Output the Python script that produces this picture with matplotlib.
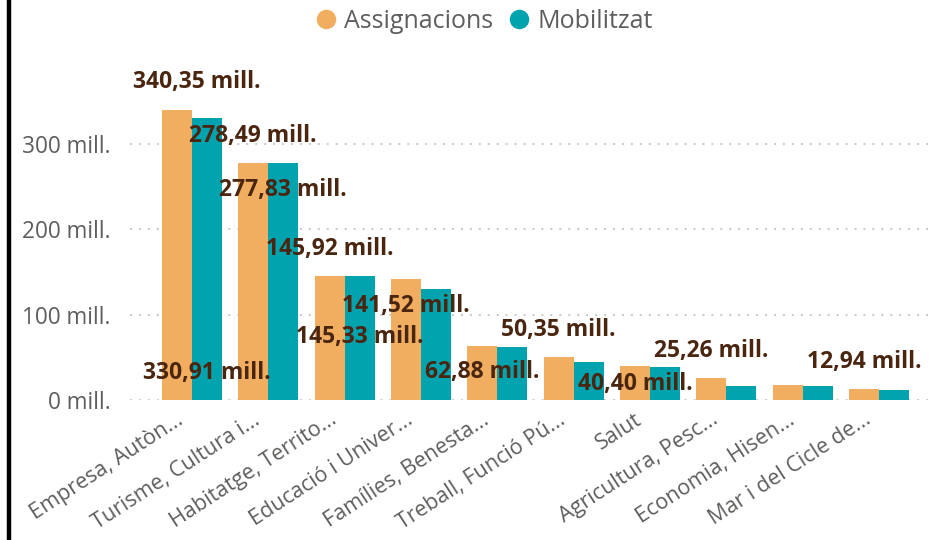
import matplotlib
matplotlib.use("Agg")
import matplotlib.pyplot as plt
import matplotlib.transforms as mtransforms
from matplotlib.lines import Line2D
import numpy as np

plt.rcParams['font.family'] = ['Open Sans', 'DejaVu Sans']

# ---- data ----
categories = ["Empresa, Autòn...", "Turisme, Cultura i...", "Habitatge, Territo...",
              "Educació i Univer...", "Famílies, Benesta...", "Treball, Funció Pú...",
              "Salut", "Agricultura, Pesc...", "Economia, Hisen...", "Mar i del Cicle de..."]
assignacions = [340.35, 278.49, 145.92, 141.52, 62.88, 50.35, 40.40, 25.26, 17.5, 12.94]
mobilitzat = [330.91, 277.83, 145.33, 130.0, 62.5, 44.0, 38.5, 16.0, 16.0, 12.0]
yticks = [0, 100, 200, 300]
series_names = ["Assignacions", "Mobilitzat"]

# which bars carry a data label, and label offset in pixels (dx, dy up)
label_a = {0: (20, 28), 1: (0, 27), 2: (0, 27), 3: (0, -27), 4: (0, -26),
           5: (0, 27), 6: (0, -18), 7: (0, 27), 9: (0, 27)}
label_m = {0: (0, -255), 1: (0, -27), 2: (0, -61)}

c_a = "#F2AE60"
c_m = "#01A3AE"
lab_col = "#4A2610"
txt_col = "#605E5C"

W, H = 944, 540
fig = plt.figure(figsize=(W / 100, H / 100), dpi=100)
left_px, right_px = 130, 930
bottom_px, top_px = 400, 93
ax = fig.add_axes([left_px / W, 1 - bottom_px / H, (right_px - left_px) / W, (bottom_px - top_px) / H])

x = np.arange(len(categories))
bw = 0.393
ax.bar(x - bw / 2, assignacions, width=bw, color=c_a, linewidth=0, zorder=3)
ax.bar(x + bw / 2, mobilitzat, width=bw, color=c_m, linewidth=0, zorder=3)

ax.set_xlim(-0.81, len(categories) - 1 + 0.67)
ax.set_ylim(0, 360)

ax.set_yticks(yticks)
ax.set_yticklabels([f"{v} mill." for v in yticks])
ax.yaxis.grid(True, linestyle=(0, (1, 3.6)), color="#C8C8C8", linewidth=1.4, zorder=0)
ax.tick_params(axis='y', length=0, pad=14, labelsize=16.3, labelcolor=txt_col)

ax.set_xticks(x)
ax.set_xticklabels(categories, rotation=33, ha='right', va='center', rotation_mode='anchor')
ax.tick_params(axis='x', length=0, pad=13, labelsize=15.5, labelcolor=txt_col)
shift = mtransforms.ScaledTranslation(-10 / 100, 0, fig.dpi_scale_trans)
for lbl in ax.get_xticklabels():
    lbl.set_transform(lbl.get_transform() + shift)

for s in ax.spines.values():
    s.set_visible(False)

def fmt(v):
    return f"{v:.2f}".replace(".", ",") + " mill."

for i, (dx, dy) in label_a.items():
    ax.annotate(fmt(assignacions[i]), xy=(x[i] - bw / 2, assignacions[i]),
                xytext=(dx, dy), textcoords='offset pixels', ha='center', va='center',
                fontsize=16.5, fontweight='bold', color=lab_col, zorder=5)
for i, (dx, dy) in label_m.items():
    ax.annotate(fmt(mobilitzat[i]), xy=(x[i] + bw / 2, mobilitzat[i]),
                xytext=(dx, dy), textcoords='offset pixels', ha='center', va='center',
                fontsize=16.5, fontweight='bold', color=lab_col, zorder=5)

# left border
fig.add_artist(Line2D([9 / W, 9 / W], [0, 1], color="black", linewidth=3.2, transform=fig.transFigure))

handles = [Line2D([], [], marker='o', linestyle='none', markersize=13, color=c)
           for c in (c_a, c_m)]
fig.legend(handles, series_names, loc='center', bbox_to_anchor=(483 / W, 1 - 21 / H),
           ncol=2, frameon=False, fontsize=18, labelcolor=txt_col,
           handletextpad=0.25, columnspacing=0.5, handlelength=1.0)

fig.savefig("out.png", dpi=100)
